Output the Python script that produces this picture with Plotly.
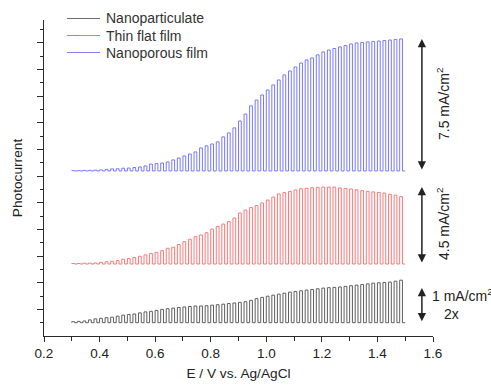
import plotly.graph_objects as go
import numpy as np

# ---- data ----
cycle_E = [0.30, 0.32, 0.34, 0.36, 0.38, 0.40, 0.42, 0.44, 0.46, 0.48,
           0.50, 0.52, 0.54, 0.56, 0.58, 0.60, 0.62, 0.64, 0.66, 0.68,
           0.70, 0.72, 0.74, 0.76, 0.78, 0.80, 0.82, 0.84, 0.86, 0.88,
           0.90, 0.92, 0.94, 0.96, 0.98, 1.00, 1.02, 1.04, 1.06, 1.08,
           1.10, 1.12, 1.14, 1.16, 1.18, 1.20, 1.22, 1.24, 1.26, 1.28,
           1.30, 1.32, 1.34, 1.36, 1.38, 1.40, 1.42, 1.44, 1.46, 1.48]
E_end = 1.50

# photocurrent amplitude per light pulse, mA/cm^2
nanoparticulate = [0.029, 0.038, 0.049, 0.081, 0.110, 0.127, 0.145, 0.159, 0.188, 0.217,
                   0.237, 0.251, 0.283, 0.312, 0.329, 0.353, 0.384, 0.405, 0.422, 0.439,
                   0.454, 0.468, 0.483, 0.483, 0.491, 0.506, 0.520, 0.535, 0.555, 0.569,
                   0.587, 0.607, 0.645, 0.694, 0.731, 0.766, 0.795, 0.824, 0.853, 0.882,
                   0.902, 0.922, 0.942, 0.960, 0.980, 1.000, 1.012, 1.020, 1.032, 1.049,
                   1.069, 1.084, 1.104, 1.121, 1.142, 1.153, 1.162, 1.173, 1.199, 1.228]
thin_flat = [0.03, 0.03, 0.05, 0.05, 0.06, 0.10, 0.13, 0.16, 0.20, 0.28,
             0.32, 0.38, 0.45, 0.53, 0.61, 0.68, 0.77, 0.91, 0.97, 1.13,
             1.29, 1.43, 1.58, 1.68, 1.81, 2.02, 2.17, 2.31, 2.45, 2.66,
             2.95, 3.12, 3.27, 3.38, 3.53, 3.70, 3.87, 4.05, 4.13, 4.20,
             4.28, 4.35, 4.38, 4.41, 4.43, 4.45, 4.45, 4.45, 4.40, 4.37,
             4.34, 4.29, 4.24, 4.20, 4.17, 4.14, 4.10, 4.03, 3.98, 3.90]
nanoporous = [0.02, 0.02, 0.03, 0.035, 0.045, 0.06, 0.09, 0.12, 0.13, 0.16,
              0.17, 0.20, 0.23, 0.29, 0.40, 0.43, 0.46, 0.52, 0.64, 0.75,
              0.87, 0.98, 1.10, 1.33, 1.45, 1.56, 1.68, 1.97, 2.20, 2.49,
              2.89, 3.29, 3.76, 4.10, 4.39, 4.68, 4.97, 5.26, 5.55, 5.78,
              6.01, 6.24, 6.42, 6.53, 6.71, 6.88, 6.99, 7.08, 7.17, 7.25,
              7.34, 7.40, 7.43, 7.46, 7.49, 7.51, 7.54, 7.57, 7.60, 7.63]

series_names = ["Nanoparticulate", "Thin flat film", "Nanoporous film"]
offsets = [0.77, 4.16, 9.54]       # vertical stacking offsets (mA/cm^2)
scales = [2.0, 1.0, 1.0]          # nanoparticulate magnified 2x
colors = ["rgb(95,95,95)", "rgb(255,120,120)", "rgb(120,120,255)"]
legend_colors = ["rgb(110,110,110)", "rgb(255,110,110)", "rgb(130,130,255)"]

W, H = 491, 385
ML, MR, MT, MB = 44, 58, 20, 49
PW, PH = W - ML - MR, H - MT - MB
PX = 17.3  # px per mA/cm^2 (layout)

def px_x(px):
    return (px - ML) / PW

def px_y(py):
    return (H - MB - py) / PH

def chopped(amps, base, scale):
    xs, ys = [], []
    for i, e in enumerate(cycle_E):
        e_next = cycle_E[i + 1] if i + 1 < len(cycle_E) else E_end
        mid = (e + e_next) / 2
        top = base + amps[i] * scale
        xs += [e, e, mid, mid]
        ys += [base, top, top, base]
    xs.append(E_end)
    ys.append(base)
    return xs, ys

fig = go.Figure()
for amps, name, off, sc, col in zip([nanoparticulate, thin_flat, nanoporous],
                                    series_names, offsets, scales, colors):
    xs, ys = chopped(amps, off, sc)
    fig.add_trace(go.Scatter(x=xs, y=ys, mode="lines", name=name,
                             line=dict(color=col, width=1), showlegend=False))

ymax = PH / PX
tick_step = 13.33 / PX
major = [k * tick_step for k in range(2, 24, 2)]
minor = [k * tick_step for k in range(1, 24, 2)]

font = "Liberation Sans, Arial, sans-serif"
axcol = "#2a2a2a"
tcol = "#222"

fig.update_layout(
    width=W, height=H,
    margin=dict(l=ML, r=MR, t=MT, b=MB, autoexpand=False),
    paper_bgcolor="white", plot_bgcolor="white",
    font=dict(family=font, size=13, color=tcol),
    showlegend=False,
    xaxis=dict(range=[0.2, 1.6], showline=True, linecolor=axcol, linewidth=1.3,
               ticks="outside", ticklen=5, tickwidth=1.2, tickcolor=axcol,
               tick0=0.2, dtick=0.2, tickformat=".1f",
               minor=dict(dtick=0.1, ticks="outside", ticklen=4, tickwidth=1.2, tickcolor=axcol),
               showgrid=False, zeroline=False,
               tickfont=dict(size=13.5, color=tcol),
               title=dict(text="E / V vs. Ag/AgCl", font=dict(size=13.7, color=tcol), standoff=8)),
    yaxis=dict(range=[0, ymax], showline=True, linecolor=axcol, linewidth=1.3,
               ticks="outside", ticklen=6, tickwidth=1.2, tickcolor=axcol,
               tickmode="array", tickvals=major, showticklabels=False,
               minor=dict(tickvals=minor, ticks="outside", ticklen=3, tickwidth=1.2, tickcolor=axcol),
               showgrid=False, zeroline=False,
               title=dict(text="Photocurrent", font=dict(size=13.7, color=tcol), standoff=11)),
)

# manual legend
leg_rows = [18.5, 35.5, 52.5]
for name, lcol, ry in zip(series_names, legend_colors, leg_rows):
    fig.add_shape(type="line", xref="paper", yref="paper",
                  x0=px_x(67), x1=px_x(100), y0=px_y(ry), y1=px_y(ry),
                  line=dict(color=lcol, width=1))
    fig.add_annotation(x=px_x(104), y=px_y(ry), xref="paper", yref="paper",
                       text=name, xanchor="left", yanchor="middle", showarrow=False,
                       font=dict(size=14, color="#333"))

# scale arrows
arrow_x = 1.56
arrows = [
    (offsets[2], offsets[2] + max(nanoporous)),
    (offsets[1], offsets[1] + max(thin_flat)),
    (offsets[0], offsets[0] + 1.0 * scales[0]),
]
for y0, y1 in arrows:
    fig.add_annotation(x=arrow_x, y=y1, ax=arrow_x, ay=y0, xref="x", yref="y",
                       axref="x", ayref="y", showarrow=True, arrowhead=2, startarrowhead=2,
                       arrowside="end+start", arrowsize=1.1, startarrowsize=1.1,
                       arrowwidth=1.5, arrowcolor="#222", text="")

labels = [
    ("7.5 mA/cm<sup>2</sup>", 104),
    ("4.5 mA/cm<sup>2</sup>", 224),
]
for txt, py in labels:
    fig.add_annotation(x=px_x(443), y=px_y(py), xref="paper", yref="paper", text=txt,
                       textangle=-90, xanchor="center", yanchor="middle",
                       showarrow=False, font=dict(size=14, color=tcol))
fig.add_annotation(x=px_x(430), y=px_y(295), xref="paper", yref="paper", text="1 mA/cm<sup>2</sup>",
                   xanchor="left", yanchor="middle", showarrow=False, font=dict(size=14, color=tcol))
fig.add_annotation(x=px_x(442), y=px_y(314), xref="paper", yref="paper", text="2x",
                   xanchor="left", yanchor="middle", showarrow=False, font=dict(size=14, color=tcol))

fig.write_html("out.html", config={"displayModeBar": False},
               post_script="document.body.style.margin='0px';")
